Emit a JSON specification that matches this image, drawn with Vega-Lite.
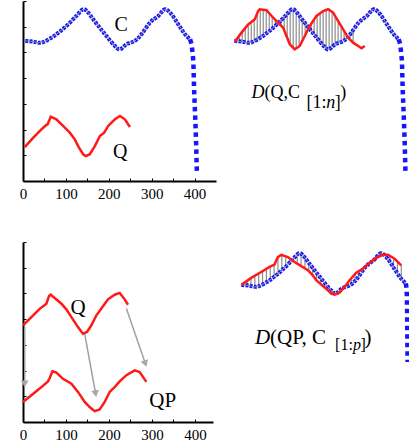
{
  "$schema": "https://vega.github.io/schema/vega-lite/v6.json",
  "padding": {"left": 16, "top": 0, "right": 0, "bottom": 0},
  "background": "white",
  "config": {
    "view": {"stroke": null},
    "font": "Liberation Serif",
    "axis": {"title": null, "grid": false, "domainColor": "black", "domainWidth": 2, "tickColor": "black", "tickWidth": 1, "tickSize": -3, "labelFont": "Liberation Serif", "labelColor": "black", "labelFontSize": 15, "labelPadding": 8, "labelFlush": false, "labelOverlap": false},
    "text": {"font": "Liberation Serif", "color": "black"}
  },
  "datasets": {
    "c_curve": [{"x":5.4,"y":5.45},{"x":23.4,"y":5.42},{"x":42.8,"y":5.38},{"x":66.1,"y":5.57},{"x":85.7,"y":5.81},{"x":105,"y":6.09},{"x":124.5,"y":6.42},{"x":140.2,"y":6.68},{"x":151.9,"y":6.55},{"x":163.6,"y":6.29},{"x":179.2,"y":5.96},{"x":194.6,"y":5.64},{"x":214.3,"y":5.25},{"x":225.9,"y":5.12},{"x":241.4,"y":5.32},{"x":261,"y":5.45},{"x":276.4,"y":5.71},{"x":296,"y":6.16},{"x":315.4,"y":6.42},{"x":331.1,"y":6.68},{"x":346.5,"y":6.48},{"x":362.1,"y":6.09},{"x":377.8,"y":5.71},{"x":389.5,"y":5.51}],
    "c_drop": [{"x":389.5,"y":5.51},{"x":393.2,"y":5.32},{"x":397.2,"y":4.67},{"x":398.8,"y":3.62},{"x":401.2,"y":2.61},{"x":403.5,"y":1.56},{"x":405.5,"y":0.27}],
    "c_drop_br": [{"x":389.5,"y":5.51},{"x":391.5,"y":5.3},{"x":392.5,"y":4.6},{"x":393,"y":3.6},{"x":393.7,"y":2.45}],
    "q_tl": [{"x":4,"y":1.32},{"x":23.4,"y":1.68},{"x":42.8,"y":2.01},{"x":54.4,"y":2.18},{"x":57.2,"y":2.2},{"x":64.7,"y":2.5},{"x":77.8,"y":2.4},{"x":93.5,"y":2.14},{"x":109.1,"y":1.88},{"x":120.8,"y":1.62},{"x":128.5,"y":1.36},{"x":140.2,"y":1.04},{"x":146.5,"y":0.97},{"x":155.8,"y":1.04},{"x":167.5,"y":1.36},{"x":179.2,"y":1.75},{"x":189.3,"y":1.88},{"x":198.6,"y":2.14},{"x":214.3,"y":2.4},{"x":226,"y":2.53},{"x":237.6,"y":2.4},{"x":249.3,"y":2.1}],
    "q_tr": [{"x":6.5,"y":5.42},{"x":22.2,"y":5.77},{"x":37.9,"y":6.09},{"x":53.3,"y":6.29},{"x":61.2,"y":6.61},{"x":65,"y":6.68},{"x":80.6,"y":6.64},{"x":96.3,"y":6.35},{"x":111.7,"y":6.09},{"x":119.6,"y":5.96},{"x":127.3,"y":5.64},{"x":135,"y":5.32},{"x":146.7,"y":5.12},{"x":158.4,"y":5.25},{"x":170.1,"y":5.64},{"x":181.8,"y":6.03},{"x":197.4,"y":6.42},{"x":213.1,"y":6.61},{"x":224.8,"y":6.68},{"x":236.4,"y":6.55},{"x":248.1,"y":6.22},{"x":259.8,"y":5.9},{"x":271.5,"y":5.57},{"x":283.2,"y":5.38},{"x":294.9,"y":5.25},{"x":302.6,"y":5.16},{"x":310.3,"y":5.25}],
    "warp_tr": [{"x":10,"y":5.5,"y2":5.44},{"x":17,"y":5.65,"y2":5.43},{"x":24,"y":5.81,"y2":5.42},{"x":31,"y":5.95,"y2":5.4},{"x":38,"y":6.09,"y2":5.39},{"x":45,"y":6.18,"y2":5.4},{"x":52,"y":6.27,"y2":5.45},{"x":59,"y":6.52,"y2":5.51},{"x":66,"y":6.68,"y2":5.57},{"x":73,"y":6.66,"y2":5.65},{"x":80,"y":6.64,"y2":5.74},{"x":87,"y":6.52,"y2":5.83},{"x":94,"y":6.39,"y2":5.93},{"x":101,"y":6.27,"y2":6.03},{"x":108,"y":6.15,"y2":6.14},{"x":115,"y":6.04,"y2":6.26},{"x":122,"y":5.86,"y2":6.38},{"x":129,"y":5.57,"y2":6.5},{"x":136,"y":5.3,"y2":6.61},{"x":143,"y":5.18,"y2":6.65},{"x":150,"y":5.16,"y2":6.57},{"x":157,"y":5.23,"y2":6.44},{"x":164,"y":5.44,"y2":6.28},{"x":171,"y":5.67,"y2":6.13},{"x":178,"y":5.9,"y2":5.99},{"x":185,"y":6.11,"y2":5.84},{"x":192,"y":6.28,"y2":5.69},{"x":199,"y":6.44,"y2":5.55},{"x":206,"y":6.52,"y2":5.41},{"x":213,"y":6.61,"y2":5.28},{"x":220,"y":6.65,"y2":5.19},{"x":227,"y":6.66,"y2":5.13},{"x":234,"y":6.58,"y2":5.22},{"x":241,"y":6.42,"y2":5.32},{"x":248,"y":6.22,"y2":5.36},{"x":255,"y":6.03,"y2":5.41},{"x":262,"y":5.84,"y2":5.47},{"x":269,"y":5.64,"y2":5.59},{"x":276,"y":5.5,"y2":5.7},{"x":283,"y":5.38,"y2":5.86}],
    "q_bl": [{"x":0,"y":3.76},{"x":19.5,"y":4.08},{"x":38.8,"y":4.4},{"x":54.4,"y":4.6},{"x":60.5,"y":4.9},{"x":64.4,"y":4.95},{"x":73.7,"y":4.82},{"x":89.3,"y":4.6},{"x":100.9,"y":4.38},{"x":112.6,"y":4.08},{"x":127.9,"y":3.69},{"x":139.5,"y":3.43},{"x":148.8,"y":3.5},{"x":159.1,"y":3.76},{"x":170.7,"y":4.15},{"x":182.3,"y":4.41},{"x":197.7,"y":4.77},{"x":213.3,"y":4.95},{"x":224.9,"y":5.02},{"x":236.5,"y":4.77},{"x":244.2,"y":4.56}],
    "qp_bl": [{"x":0,"y":0.78},{"x":19.5,"y":1.04},{"x":38.8,"y":1.3},{"x":58.1,"y":1.58},{"x":62.1,"y":1.71},{"x":68.4,"y":1.97},{"x":77.7,"y":1.92},{"x":93,"y":1.68},{"x":112.6,"y":1.49},{"x":127.9,"y":1.17},{"x":143.5,"y":0.78},{"x":155.1,"y":0.58},{"x":166.7,"y":0.42},{"x":178.4,"y":0.49},{"x":190,"y":0.78},{"x":201.6,"y":1.17},{"x":213.3,"y":1.36},{"x":224.9,"y":1.58},{"x":240.5,"y":1.82},{"x":259.8,"y":2.01},{"x":271.4,"y":1.94},{"x":287,"y":1.56}],
    "arrows": [{"x":4,"y":3.7,"x2":4,"y2":1.48,"h":0},{"x":143.5,"y":3.43,"x2":169,"y2":1.1,"h":350},{"x":240.5,"y":4.41,"x2":284.7,"y2":2.27,"h":342}],
    "qp_br": [{"x":6.5,"y":5.46},{"x":28.5,"y":5.72},{"x":51.9,"y":5.95},{"x":71.3,"y":6.15},{"x":82.9,"y":6.24},{"x":90.7,"y":6.53},{"x":98.6,"y":6.62},{"x":114,"y":6.53},{"x":129.7,"y":6.34},{"x":145.3,"y":6.18},{"x":160.7,"y":6.02},{"x":172.4,"y":5.82},{"x":180.4,"y":5.63},{"x":192.1,"y":5.46},{"x":203.7,"y":5.3},{"x":215.4,"y":5.11},{"x":223.1,"y":5.07},{"x":234.8,"y":5.15},{"x":246.5,"y":5.37},{"x":258.2,"y":5.63},{"x":273.8,"y":5.92},{"x":289.3,"y":6.08},{"x":304.9,"y":6.31},{"x":320.6,"y":6.5},{"x":336,"y":6.62},{"x":347.7,"y":6.62},{"x":363.3,"y":6.47},{"x":378.9,"y":6.21}],
    "warp_br": [{"x":10,"y":5.5,"y2":5.44},{"x":19,"y":5.61,"y2":5.43},{"x":28,"y":5.71,"y2":5.41},{"x":37,"y":5.8,"y2":5.39},{"x":46,"y":5.89,"y2":5.41},{"x":55,"y":5.98,"y2":5.48},{"x":64,"y":6.07,"y2":5.55},{"x":73,"y":6.16,"y2":5.65},{"x":82,"y":6.23,"y2":5.76},{"x":91,"y":6.53,"y2":5.89},{"x":100,"y":6.61,"y2":6.02},{"x":109,"y":6.56,"y2":6.16},{"x":118,"y":6.48,"y2":6.31},{"x":127,"y":6.37,"y2":6.46},{"x":136,"y":6.28,"y2":6.61},{"x":145,"y":6.18,"y2":6.63},{"x":154,"y":6.09,"y2":6.5},{"x":163,"y":5.98,"y2":6.3},{"x":172,"y":5.83,"y2":6.11},{"x":181,"y":5.62,"y2":5.92},{"x":190,"y":5.48,"y2":5.74},{"x":199,"y":5.36,"y2":5.55},{"x":208,"y":5.23,"y2":5.37},{"x":217,"y":5.1,"y2":5.22},{"x":226,"y":5.09,"y2":5.12},{"x":235,"y":5.15,"y2":5.24},{"x":244,"y":5.32,"y2":5.34},{"x":253,"y":5.51,"y2":5.4},{"x":262,"y":5.7,"y2":5.47},{"x":271,"y":5.87,"y2":5.62},{"x":280,"y":5.98,"y2":5.79},{"x":289,"y":6.08,"y2":6.0},{"x":298,"y":6.21,"y2":6.19},{"x":307,"y":6.33,"y2":6.31},{"x":316,"y":6.44,"y2":6.43},{"x":325,"y":6.53,"y2":6.58},{"x":334,"y":6.6,"y2":6.64},{"x":343,"y":6.62,"y2":6.53},{"x":352,"y":6.58,"y2":6.34},{"x":361,"y":6.49,"y2":6.12},{"x":370,"y":6.36,"y2":5.9},{"x":379,"y":6.21,"y2":5.69}]
  },
  "spacing": 40,
  "vconcat": [
    {
      "spacing": 10,
      "hconcat": [
        {
          "width": 193, "height": 180,
          "encoding": {
            "x": {"field": "x", "type": "quantitative", "scale": {"domain": [0, 450], "nice": false, "zero": false},
                  "axis": {"values": [0,50,100,150,200,250,300,350,400], "labelExpr": "datum.value % 100 === 0 ? datum.label : ''"}},
            "y": {"field": "y", "type": "quantitative", "scale": {"domain": [0, 7], "nice": false},
                  "axis": {"values": [0,1,2,3,4,5,6,7], "labels": false}}
          },
          "layer": [
            {"data": {"name": "c_curve"}, "mark": {"type": "line", "color": "#1515ff", "strokeWidth": 4, "strokeDash": [3, 1.2], "interpolate": "cardinal"}},
            {"data": {"name": "c_curve"}, "mark": {"type": "line", "color": "#8c8c8c", "strokeWidth": 1, "interpolate": "cardinal"}},
            {"data": {"name": "c_drop"}, "mark": {"type": "line", "color": "#1515ff", "strokeWidth": 4.5, "strokeDash": [4.5, 4]}},
            {"data": {"name": "q_tl"}, "mark": {"type": "line", "color": "#ff1a1a", "strokeWidth": 2.5}},
            {"data": {"values": [{"x": 229, "y": 5.83, "t": "C"}, {"x": 226.6, "y": 0.91, "t": "Q"}]}, "mark": {"type": "text", "fontSize": 20, "align": "center", "baseline": "alphabetic"}, "encoding": {"text": {"field": "t"}}}
          ]
        },
        {
          "width": 178, "height": 180,
          "encoding": {
            "x": {"field": "x", "type": "quantitative", "scale": {"domain": [0, 416], "nice": false, "zero": false}, "axis": null},
            "y": {"field": "y", "type": "quantitative", "scale": {"domain": [0, 7], "nice": false}, "axis": null}
          },
          "layer": [
            {"data": {"name": "warp_tr"}, "mark": {"type": "rule", "color": "#8c8c8c", "strokeWidth": 1.2}, "encoding": {"y2": {"field": "y2"}}},
            {"data": {"name": "c_curve"}, "mark": {"type": "line", "color": "#1515ff", "strokeWidth": 4, "strokeDash": [3, 1.2], "interpolate": "cardinal"}},
            {"data": {"name": "c_curve"}, "mark": {"type": "line", "color": "#8c8c8c", "strokeWidth": 1, "interpolate": "cardinal"}},
            {"data": {"name": "c_drop"}, "mark": {"type": "line", "color": "#1515ff", "strokeWidth": 4.5, "strokeDash": [4.5, 4]}},
            {"data": {"name": "q_tr"}, "mark": {"type": "line", "color": "#ff1a1a", "strokeWidth": 2.5}},
            {"data": {"values": [{"x": 45.6, "y": 3.24, "t": "D"}]}, "mark": {"type": "text", "fontSize": 18, "fontStyle": "italic", "align": "left", "baseline": "alphabetic"}, "encoding": {"text": {"field": "t"}}},
            {"data": {"values": [{"x": 75.9, "y": 3.24, "t": "(Q,C"}, {"x": 253, "y": 3.24, "t": ")"}]}, "mark": {"type": "text", "fontSize": 18, "align": "left", "baseline": "alphabetic"}, "encoding": {"text": {"field": "t"}}},
            {"data": {"values": [{"x": 174.1, "y": 2.84, "t": "[1:"}, {"x": 240, "y": 2.84, "t": "]"}]}, "mark": {"type": "text", "fontSize": 18, "align": "left", "baseline": "alphabetic"}, "encoding": {"text": {"field": "t"}}},
            {"data": {"values": [{"x": 220, "y": 2.84, "t": "n"}]}, "mark": {"type": "text", "fontSize": 18, "fontStyle": "italic", "align": "left", "baseline": "alphabetic"}, "encoding": {"text": {"field": "t"}}}
          ]
        }
      ]
    },
    {
      "spacing": 20,
      "hconcat": [
        {
          "width": 190, "height": 180,
          "encoding": {
            "x": {"field": "x", "type": "quantitative", "scale": {"domain": [0, 442], "nice": false, "zero": false},
                  "axis": {"values": [0,50,100,150,200,250,300,350,400], "labelExpr": "datum.value % 100 === 0 ? datum.label : ''"}},
            "y": {"field": "y", "type": "quantitative", "scale": {"domain": [0, 7], "nice": false},
                  "axis": {"values": [0,1,2,3,4,5,6,7], "labels": false, "title": ".", "titleFontSize": 3, "titleColor": "white", "titlePadding": 3}}
          },
          "layer": [
            {"data": {"name": "arrows"}, "mark": {"type": "rule", "color": "#a0a0a0", "strokeWidth": 1.5}, "encoding": {"x2": {"field": "x2"}, "y2": {"field": "y2"}}},
            {"data": {"name": "arrows"}, "mark": {"type": "point", "shape": "triangle-down", "filled": true, "color": "#a8a8a8", "size": 60, "opacity": 1},
             "encoding": {"x": {"field": "x2", "type": "quantitative"}, "y": {"field": "y2", "type": "quantitative"}, "angle": {"field": "h", "type": "quantitative", "scale": null}}},
            {"data": {"name": "q_bl"}, "mark": {"type": "line", "color": "#ff1a1a", "strokeWidth": 2.5}},
            {"data": {"name": "qp_bl"}, "mark": {"type": "line", "color": "#ff1a1a", "strokeWidth": 2.5}},
            {"data": {"values": [{"x": 127.9, "y": 4.21, "t": "Q"}, {"x": 324.9, "y": 0.58, "t": "QP"}]}, "mark": {"type": "text", "fontSize": 21, "align": "center", "baseline": "alphabetic"}, "encoding": {"text": {"field": "t"}}}
          ]
        },
        {
          "width": 170, "height": 180,
          "encoding": {
            "x": {"field": "x", "type": "quantitative", "scale": {"domain": [0, 397], "nice": false, "zero": false}, "axis": null},
            "y": {"field": "y", "type": "quantitative", "scale": {"domain": [0.117, 7.117], "nice": false, "zero": false}, "axis": null}
          },
          "layer": [
            {"data": {"name": "warp_br"}, "mark": {"type": "rule", "color": "#8c8c8c", "strokeWidth": 1.2}, "encoding": {"y2": {"field": "y2"}}},
            {"data": {"name": "c_curve"}, "mark": {"type": "line", "color": "#1515ff", "strokeWidth": 4, "strokeDash": [3, 1.2], "interpolate": "cardinal"}},
            {"data": {"name": "c_curve"}, "mark": {"type": "line", "color": "#8c8c8c", "strokeWidth": 1, "interpolate": "cardinal"}},
            {"data": {"name": "c_drop_br"}, "mark": {"type": "line", "color": "#1515ff", "strokeWidth": 4.5, "strokeDash": [4.5, 4], "clip": true}},
            {"data": {"name": "qp_br"}, "mark": {"type": "line", "color": "#ff1a1a", "strokeWidth": 2.5}},
            {"data": {"values": [{"x": 37.4, "y": 3.16, "t": "D"}]}, "mark": {"type": "text", "fontSize": 21, "fontStyle": "italic", "align": "left", "baseline": "alphabetic"}, "encoding": {"text": {"field": "t"}}},
            {"data": {"values": [{"x": 72.4, "y": 3.16, "t": "(QP, C"}, {"x": 293, "y": 3.16, "t": ")"}]}, "mark": {"type": "text", "fontSize": 21, "align": "left", "baseline": "alphabetic"}, "encoding": {"text": {"field": "t"}}},
            {"data": {"values": [{"x": 224.3, "y": 2.9, "t": "[1:"}, {"x": 284, "y": 2.9, "t": "]"}]}, "mark": {"type": "text", "fontSize": 16, "align": "left", "baseline": "alphabetic"}, "encoding": {"text": {"field": "t"}}},
            {"data": {"values": [{"x": 266, "y": 2.9, "t": "p"}]}, "mark": {"type": "text", "fontSize": 16, "fontStyle": "italic", "align": "left", "baseline": "alphabetic"}, "encoding": {"text": {"field": "t"}}}
          ]
        }
      ]
    }
  ]
}
